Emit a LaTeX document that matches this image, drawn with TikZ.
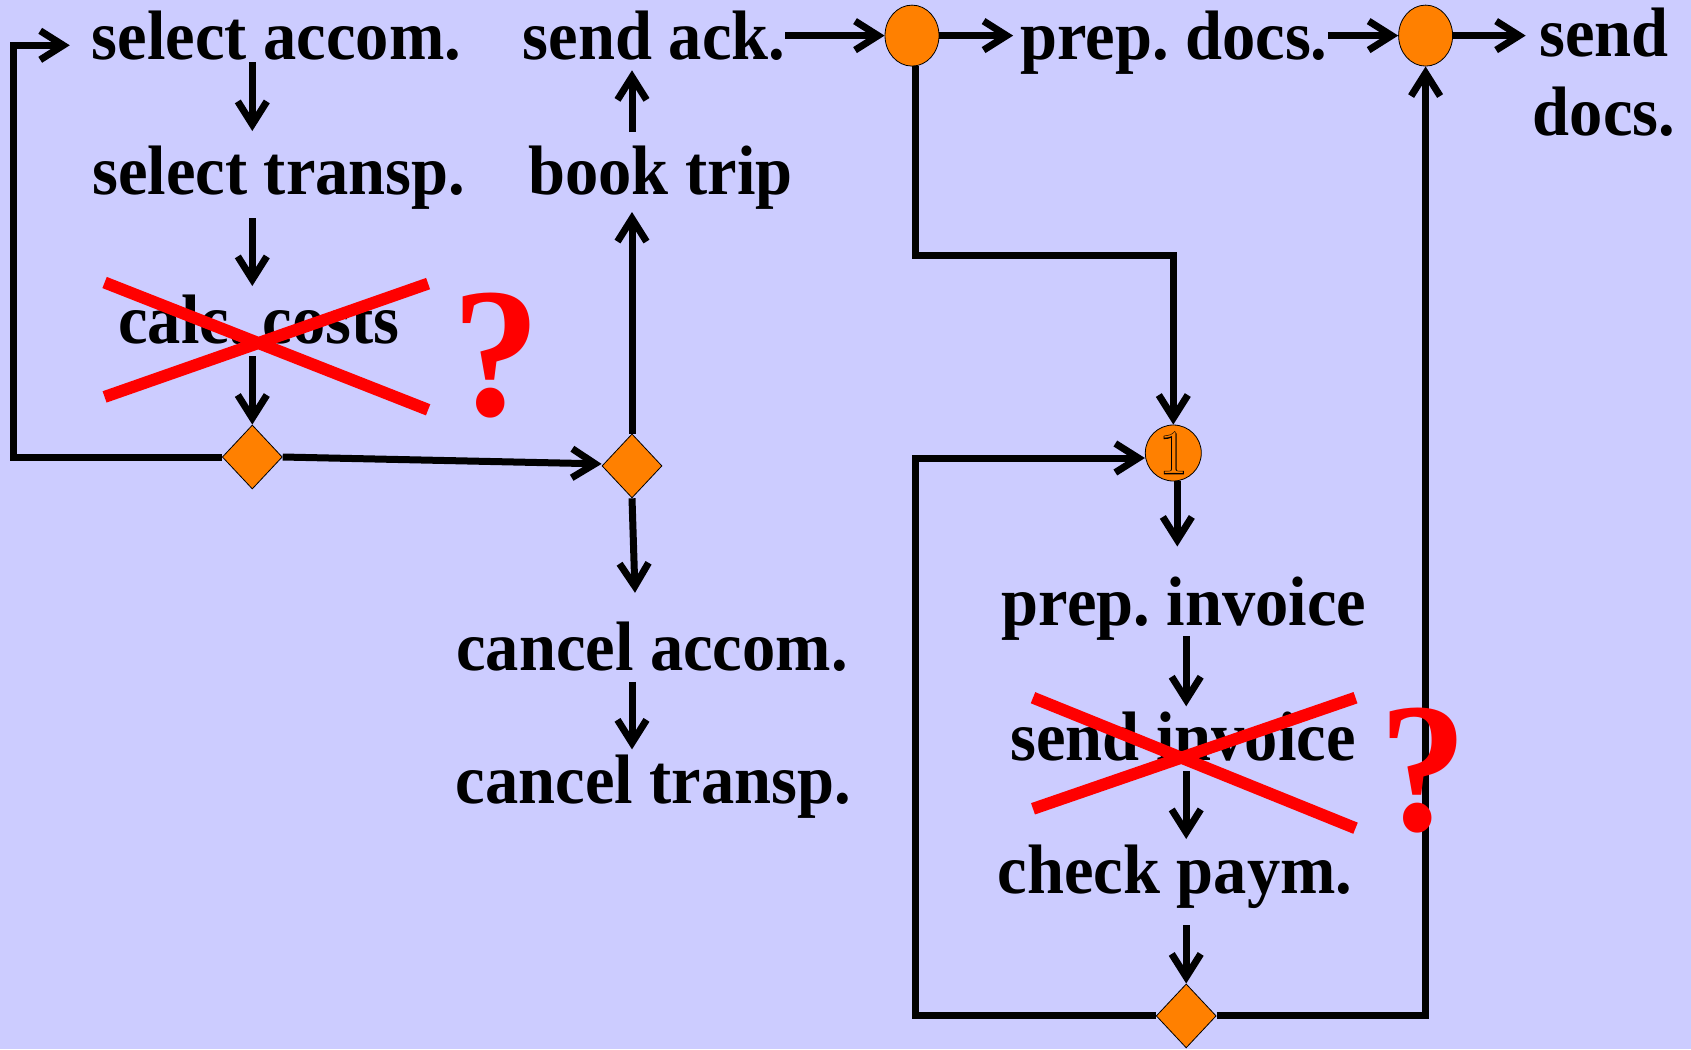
\documentclass[tikz,border=0pt]{standalone}
\usepackage{fontspec}
\setmainfont{Liberation Serif}[FakeStretch=0.95]
\newfontfamily\digitfont{Latin Modern Roman}
\newfontfamily\digitbold{Latin Modern Roman}[FakeBold=3]
\usetikzlibrary{arrows.meta,shapes.geometric}
\definecolor{bgblue}{RGB}{204,204,255}
\definecolor{gateorange}{RGB}{255,128,0}
\definecolor{crossred}{RGB}{255,0,0}

\begin{document}
\frenchspacing
\begin{tikzpicture}[x=1pt,y=-1pt,
  task/.style={inner sep=0pt, anchor=base, font=\fontsize{70}{79}\selectfont\bfseries\frenchspacing},
  flow/.style={line width=7pt, -{Straight Barb[sharp,length=23pt,width=29pt]}},
  gate/.style={diamond, draw=black, line width=0.8pt, fill=gateorange,
    minimum width=60pt, minimum height=64pt, inner sep=0pt},
  junction/.style={ellipse, draw=black, line width=0.8pt, fill=gateorange,
    minimum width=54pt, minimum height=61pt, inner sep=0pt},
  counter/.style={circle, draw=black, line width=0.8pt, fill=gateorange,
    minimum size=56pt, inner sep=0pt, font=\fontsize{62}{62}\selectfont},
  strike/.style={crossred, line width=12pt},
  query/.style={text=crossred, inner sep=0pt, anchor=base,
    font=\fontsize{185}{185}\selectfont\bfseries}]

% canvas
\fill[bgblue] (0,0) rectangle (1691,1049);

% activities
\node[task] (sa)  at (276.6,59.3)  {select accom.};
\node[task] (st)  at (278.8,194)   {select transp.};
\node[task] (cc)  at (258.8,343)   {calc. costs};
\node[task] (ack) at (654,59.3)    {send ack.};
\node[task] (bt)  at (660.5,194)   {book trip};
\node[task] (pd)  at (1174,59.3)   {prep. docs.};
\node[task, anchor=center, align=center] (sd) at (1604,72) {send\\docs.};
\node[task] (ca)  at (652,670.8)   {cancel accom.};
\node[task] (ct)  at (653.5,803.4) {cancel transp.};
\node[task] (pi)  at (1184,625.5)  {prep. invoice};
\node[task] (si)  at (1183,760.3)  {send invoice};
\node[task] (cp)  at (1175,893)    {check paym.};

% gateways
\node[gate] (d1) at (252.3,457) {};
\node[gate] (d2) at (632,465.9) {};
\node[gate] (d3) at (1186.2,1015.9) {};
\node[junction] (c1) at (912,35.6) {};
\node[junction] (c2) at (1425.6,35.6) {};
\node[counter] (c3) at (1173.3,453) {\rlap{\digitbold 1}{\color{gateorange}\digitfont 1}};

% flows
\coordinate (loopx) at (13,457);
\draw[flow] (d1.west) -- (d1.west -| loopx) |- ([xshift=-22pt,yshift=14pt]sa.base west);
\draw[flow] ([yshift=-3pt]sa.base -| d1.north) -- ([yshift=63pt]st.base -| d1.north);
\draw[flow] ([yshift=-24pt]st.base -| d1.north) -- ([yshift=57pt]cc.base -| d1.north);
\draw[flow] ([yshift=-13pt]cc.base -| d1.north) -- (d1.north);
\draw[flow] (d1.east) -- ([yshift=2pt]d2.west);
\draw[flow] (d2.north) -- ([yshift=-18pt]bt.base -| d2.north);
\draw[flow] ([yshift=62pt]bt.base -| d2.north) -- ([yshift=-11pt]ack.base -| d2.north);
\draw[flow] (d2.south) -- ([xshift=3pt,yshift=78pt]ca.base -| d2.south);
\draw[flow] ([yshift=-11pt]ca.base -| d2.south) -- ([yshift=54pt]ct.base -| d2.south);
\draw[flow] (ack.east |- c1.west) -- (c1.west);
\draw[flow] (c1.east) -- ([xshift=-7pt]pd.west |- c1.east);
\draw[flow] (pd.east |- c2.west) -- (c2.west);
\draw[flow] (c2.east) -- ([xshift=-7pt]sd.west |- c2.east);
\draw[flow] ([xshift=3pt]c1.south) -- ++(0,189.3) -| (c3.north);
\draw[flow] ([xshift=4pt]c3.south) -- ([xshift=4pt,yshift=79pt]pi.base -| c3.south);
\draw[flow] ([yshift=-10.5pt]pi.base -| d3.north) -- ([yshift=54pt]si.base -| d3.north);
\draw[flow] ([yshift=-11pt]si.base -| d3.north) -- ([yshift=54pt]cp.base -| d3.north);
\draw[flow] ([yshift=-32pt]cp.base -| d3.north) -- (d3.north);
\draw[flow] (d3.west) -| ([xshift=3pt,yshift=-5pt]c1.south |- c3.west) -- ([yshift=-5pt]c3.west);
\draw[flow] (d3.east) -| (c2.south);

% struck-out activities
\draw[strike] (104.6,282.5) -- (428.1,409.8) (104.6,396.9) -- (428.1,283.6);
\draw[strike] (1033,697.7) -- (1355.5,828.2) (1033,808.8) -- (1355.5,697.7);
\node[query] (q1) at (496,415) {?};
\node[query] (q2) at (1423.5,830) {?};
\end{tikzpicture}
\end{document}
